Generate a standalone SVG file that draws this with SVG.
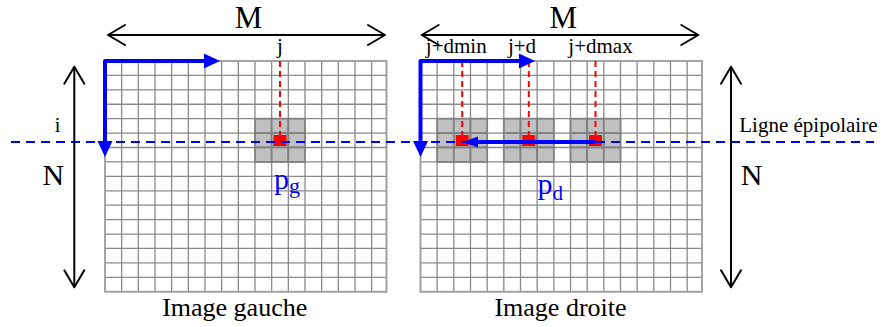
<svg xmlns="http://www.w3.org/2000/svg" xmlns:xlink="http://www.w3.org/1999/xlink" width="882" height="327" viewBox="0 0 882 327">
  <style>
    .lbl { font-family: "Liberation Serif", "Times New Roman", serif; fill: #000; }
    .grid-lines { fill: none; stroke: #8a8a8a; stroke-width: 1.3; }
    .grid-border { fill: #fff; stroke: #a0a0a0; stroke-width: 1.6; }
    .cell { fill: #c0c0c0; stroke: #808080; stroke-width: 1.8; }
    .red-dash { stroke: #ff0000; stroke-width: 2; stroke-dasharray: 6 4; fill: none; }
    .red-px { fill: #ff0000; }
    .epi { stroke: #0000ff; stroke-width: 2; stroke-dasharray: 9 6; fill: none; }
    .scan { stroke: #0000ff; stroke-width: 4; fill: none; stroke-linejoin: round; }
    .dim { stroke: #000; stroke-width: 2; fill: none; }
    .blue { font-family: "Liberation Serif", "Times New Roman", serif; fill: #0000ff; }
  </style>
  <defs>
    <marker id="head-blue" markerUnits="userSpaceOnUse" markerWidth="18" markerHeight="18" refX="0" refY="0" viewBox="0 -9 18 18" orient="auto-start-reverse" overflow="visible">
      <path d="M0,-7.5 L16,0 L0,7.5 z" fill="#0000ff"/>
    </marker>
    <marker id="head-blue-sm" markerUnits="userSpaceOnUse" markerWidth="18" markerHeight="18" refX="0" refY="0" viewBox="0 -9 18 18" orient="auto-start-reverse" overflow="visible">
      <path d="M0,-5.5 L15,0 L0,5.5 z" fill="#0000ff"/>
    </marker>
    <marker id="chevron" markerUnits="userSpaceOnUse" markerWidth="20" markerHeight="24" refX="0" refY="0" viewBox="-18 -12 20 24" orient="auto-start-reverse" overflow="visible">
      <path d="M-17,-10 L0,0 L-17,10" fill="none" stroke="#000" stroke-width="2" stroke-linejoin="round" stroke-linecap="round"/>
    </marker>
    <!-- 17 x 16 pixel grid, local origin at its top-left corner -->
    <g id="pixelGrid">
      <rect class="grid-border" x="0" y="0" width="281.5" height="230.7"/>
      <path class="grid-lines" d="M16.67,0V230.7M33.33,0V230.7M50,0V230.7M66.67,0V230.7M83.33,0V230.7M100,0V230.7M116.67,0V230.7M133.33,0V230.7M150,0V230.7M166.67,0V230.7M183.33,0V230.7M200,0V230.7M216.67,0V230.7M233.33,0V230.7M250,0V230.7M266.67,0V230.7M0,14.42H281.5M0,28.84H281.5M0,43.26H281.5M0,57.68H281.5M0,72.1H281.5M0,86.52H281.5M0,100.94H281.5M0,115.36H281.5M0,129.78H281.5M0,144.2H281.5M0,158.62H281.5M0,173.04H281.5M0,187.46H281.5M0,201.88H281.5M0,216.3H281.5"/>
      <rect x="0" y="0" width="281.5" height="230.7" fill="none" stroke="#a0a0a0" stroke-width="1.6"/>
    </g>
    <!-- 3 x 3 correlation window -->
    <g id="window">
      <rect class="cell" x="0" y="0" width="16.67" height="14.42"/>
      <rect class="cell" x="16.67" y="0" width="16.67" height="14.42"/>
      <rect class="cell" x="33.33" y="0" width="16.67" height="14.42"/>
      <rect class="cell" x="0" y="14.42" width="16.67" height="14.42"/>
      <rect class="cell" x="16.67" y="14.42" width="16.67" height="14.42"/>
      <rect class="cell" x="33.33" y="14.42" width="16.67" height="14.42"/>
      <rect class="cell" x="0" y="28.84" width="16.67" height="14.42"/>
      <rect class="cell" x="16.67" y="28.84" width="16.67" height="14.42"/>
      <rect class="cell" x="33.33" y="28.84" width="16.67" height="14.42"/>
    </g>
  </defs>

  <rect width="882" height="327" fill="#fff"/>

  <!-- left image -->
  <g id="image-gauche">
    <use xlink:href="#pixelGrid" href="#pixelGrid" transform="translate(105,61)"/>
    <use xlink:href="#window" href="#window" transform="translate(255,118.68)"/>
    <line class="red-dash" x1="280" y1="61" x2="280" y2="135"/>
    <rect class="red-px" x="273.5" y="135" width="13" height="11"/>
    <text class="lbl" x="234.7" y="316" font-size="26" text-anchor="middle">Image gauche</text>
    <text class="blue" x="274" y="188.8" font-size="30">p<tspan font-size="22" dy="4">g</tspan></text>
  </g>

  <!-- right image -->
  <g id="image-droite">
    <use xlink:href="#pixelGrid" href="#pixelGrid" transform="translate(420.5,61)"/>
    <use xlink:href="#window" href="#window" transform="translate(437.17,118.68)"/>
    <use xlink:href="#window" href="#window" transform="translate(503.83,118.68)"/>
    <use xlink:href="#window" href="#window" transform="translate(570.5,118.68)"/>
    <line class="red-dash" x1="462.2" y1="61" x2="462.2" y2="135"/>
    <line class="red-dash" x1="528.8" y1="61" x2="528.8" y2="135"/>
    <line class="red-dash" x1="595.5" y1="61" x2="595.5" y2="135"/>
    <rect class="red-px" x="455.7" y="135" width="13" height="11"/>
    <rect class="red-px" x="522.3" y="135" width="13" height="11"/>
    <rect class="red-px" x="589" y="135" width="13" height="11"/>
    <text class="lbl" x="560.5" y="316" font-size="26" text-anchor="middle">Image droite</text>
    <text class="blue" x="537.5" y="194" font-size="30">p<tspan font-size="21" dy="5.5">d</tspan></text>
  </g>

  <!-- arrows and guide lines -->
  <g id="connectors">
    <line class="epi" x1="11" y1="142" x2="874" y2="142"/>
    <path class="scan" d="M105,141 V61 H204" marker-start="url(#head-blue)" marker-end="url(#head-blue)"/>
    <path class="scan" d="M420.5,141 V61 H519" marker-start="url(#head-blue)" marker-end="url(#head-blue)"/>
    <path class="scan" d="M595.5,142 H478" marker-end="url(#head-blue-sm)"/>
    <line class="dim" x1="108" y1="35" x2="385" y2="35" marker-start="url(#chevron)" marker-end="url(#chevron)"/>
    <line class="dim" x1="421.7" y1="35" x2="698.3" y2="35" marker-start="url(#chevron)" marker-end="url(#chevron)"/>
    <line class="dim" x1="74.3" y1="66.7" x2="74.3" y2="287.3" marker-start="url(#chevron)" marker-end="url(#chevron)"/>
    <line class="dim" x1="731" y1="66.7" x2="731" y2="287.3" marker-start="url(#chevron)" marker-end="url(#chevron)"/>
  </g>

  <!-- dimension and coordinate labels -->
  <g id="labels">
    <text class="lbl" x="248.5" y="28.3" font-size="31" text-anchor="middle">M</text>
    <text class="lbl" x="563.3" y="28.3" font-size="31" text-anchor="middle">M</text>
    <text class="lbl" x="53.3" y="185" font-size="30" text-anchor="middle">N</text>
    <text class="lbl" x="751.7" y="185" font-size="30" text-anchor="middle">N</text>
    <text class="lbl" x="57.5" y="131.7" font-size="20" text-anchor="middle">i</text>
    <text class="lbl" x="280" y="52.7" font-size="21" text-anchor="middle">j</text>
    <text class="lbl" x="456.3" y="53" font-size="21" text-anchor="middle">j+dmin</text>
    <text class="lbl" x="522" y="53" font-size="21" text-anchor="middle">j+d</text>
    <text class="lbl" x="600.5" y="53" font-size="21" text-anchor="middle">j+dmax</text>
    <text class="lbl" x="739.3" y="131.7" font-size="21">Ligne épipolaire</text>
  </g>
</svg>
